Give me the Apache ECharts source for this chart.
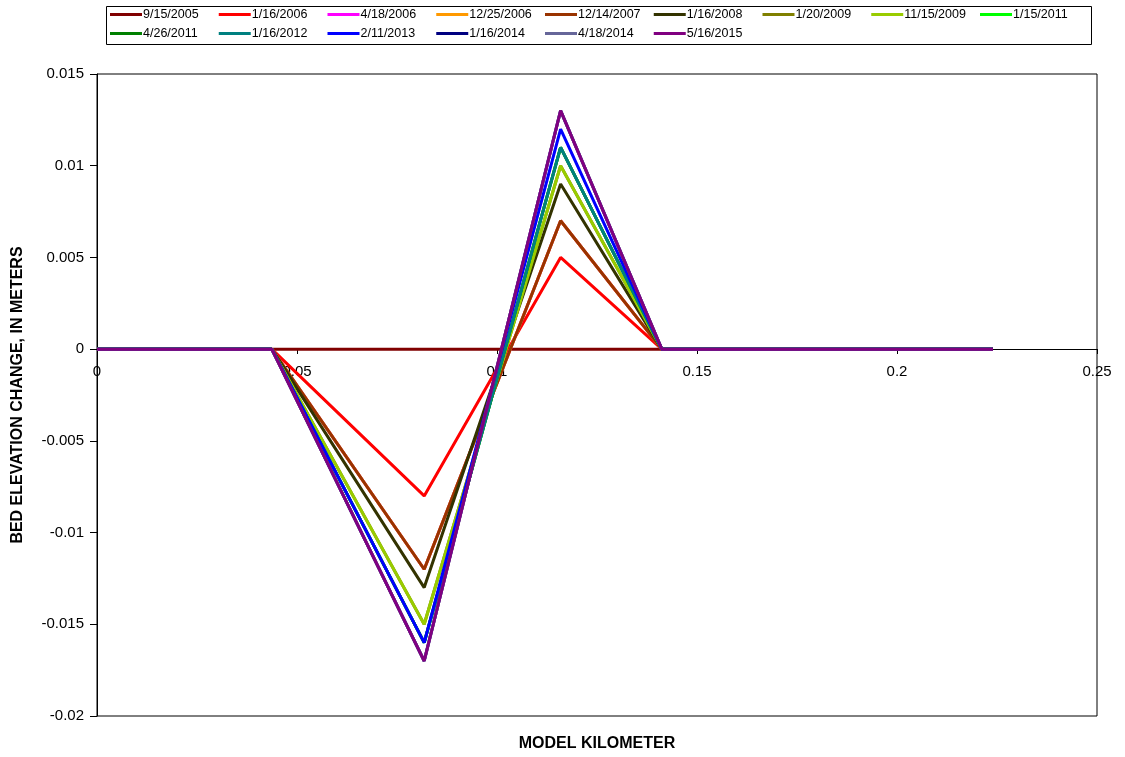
<!DOCTYPE html>
<html>
<head>
<meta charset="utf-8">
<script src="https://cdn.jsdelivr.net/npm/echarts@6/dist/echarts.min.js"></script>
<style>html,body{margin:0;padding:0;background:#fff;}#c{width:1125px;height:757px;}</style>
</head>
<body>
<div id="c"></div>
<script>
// Model kilometer positions (x)
const kilometers = [0, 0.0437, 0.0818, 0.1159, 0.1412, 0.2240];
// Series names (survey dates)
const dates = ['9/15/2005','1/16/2006','4/18/2006','12/25/2006','12/14/2007','1/16/2008','1/20/2009','11/15/2009','1/15/2011','4/26/2011','1/16/2012','2/11/2013','1/16/2014','4/18/2014','5/16/2015'];
// Bed elevation change (m) per date, at each kilometer
const s20050915 = [0, 0, 0, 0, 0, 0];
const s20060116 = [0, 0, -0.008, 0.005, 0, 0];
const s20060418 = [0, 0, -0.012, 0.007, 0, 0];
const s20061225 = [0, 0, -0.012, 0.007, 0, 0];
const s20071214 = [0, 0, -0.012, 0.007, 0, 0];
const s20080116 = [0, 0, -0.013, 0.009, 0, 0];
const s20090120 = [0, 0, -0.015, 0.010, 0, 0];
const s20091115 = [0, 0, -0.015, 0.010, 0, 0];
const s20110115 = [0, 0, -0.016, 0.011, 0, 0];
const s20110426 = [0, 0, -0.016, 0.011, 0, 0];
const s20120116 = [0, 0, -0.016, 0.011, 0, 0];
const s20130211 = [0, 0, -0.016, 0.012, 0, 0];
const s20140116 = [0, 0, -0.017, 0.013, 0, 0];
const s20140418 = [0, 0, -0.017, 0.013, 0, 0];
const s20150516 = [0, 0, -0.017, 0.013, 0, 0];
const values = [s20050915,s20060116,s20060418,s20061225,s20071214,s20080116,s20090120,s20091115,s20110115,s20110426,s20120116,s20130211,s20140116,s20140418,s20150516];
const colors = ['#800000','#FF0000','#FF00FF','#FF9900','#993300','#333300','#808000','#99CC00','#00FF00','#008000','#008080','#0000FF','#000080','#666699','#800080'];
// Axis ticks
const xTicks = [0, 0.05, 0.1, 0.15, 0.2, 0.25];
const yTicks = [-0.02, -0.015, -0.01, -0.005, 0, 0.005, 0.01, 0.015];

const font = 'Liberation Sans, Arial, sans-serif';
const gridTop = 74, gridBottom = 41, H = 757;
const plotH = H - gridTop - gridBottom;
const yMin = yTicks[0], yMax = yTicks[yTicks.length-1];
// place the x axis line at y = 0 (Excel style crossing)
const zeroOffset = -Math.round(plotH * (0 - yMin) / (yMax - yMin));

const chart = echarts.init(document.getElementById('c'), null, {renderer: 'canvas'});
const series = dates.map((d, i) => ({
  name: d,
  type: 'line',
  data: kilometers.map((k, j) => [k, values[i][j]]),
  symbol: 'none',
  lineStyle: {width: 3, color: colors[i]},
  itemStyle: {color: colors[i]},
  animation: false
}));
chart.setOption({
  animation: false,
  color: colors,
  grid: {left: 97, right: 28, top: gridTop, bottom: gridBottom, outerBoundsMode: 'none', containLabel: false, show: true, borderColor: '#000', borderWidth: 1, backgroundColor: '#fff'},
  legend: {
    data: dates,
    left: 110, top: 5, width: 985,
    itemWidth: 32, itemHeight: 3, itemGap: 0,
    icon: 'rect',
    padding: 0,
    textStyle: {fontFamily: font, fontSize: 12.5, color: '#000', width: 75.75, height: 19, lineHeight: 19, padding: [0,0,0,-4]}
  },
  xAxis: {
    type: 'value', min: xTicks[0], max: xTicks[xTicks.length-1], interval: 0.05,
    position: 'bottom', offset: zeroOffset,
    axisLine: {onZero: false, lineStyle: {color: '#000', width: 1}},
    axisTick: {show: true, length: 5, lineStyle: {color: '#000'}},
    axisLabel: {fontFamily: font, fontSize: 15, color: '#000', margin: 15},
    splitLine: {show: false}
  },
  yAxis: {
    type: 'value', min: yMin, max: yMax, interval: 0.005,
    axisLine: {show: true, onZero: false, lineStyle: {color: '#000', width: 1}},
    axisTick: {show: true, length: 7, lineStyle: {color: '#000'}},
    axisLabel: {fontFamily: font, fontSize: 15, color: '#000', margin: 13},
    splitLine: {show: false},
    name: 'BED ELEVATION CHANGE, IN METERS',
    nameLocation: 'middle', nameGap: 71, nameRotate: 90,
    nameTextStyle: {fontFamily: font, fontSize: 16, fontWeight: 'bold', color: '#000'}
  },
  graphic: [
    {type: 'rect', left: 104, top: 4, shape: {width: 985, height: 38}, style: {fill: 'none', stroke: '#000', lineWidth: 1}, silent: true, z: -1},
    {type: 'text', x: 597, y: 744, style: {text: 'MODEL KILOMETER', font: 'bold 16px ' + font, fill: '#000', align: 'center', verticalAlign: 'middle'}}
  ],
  series: series
});
</script>
</body>
</html>
